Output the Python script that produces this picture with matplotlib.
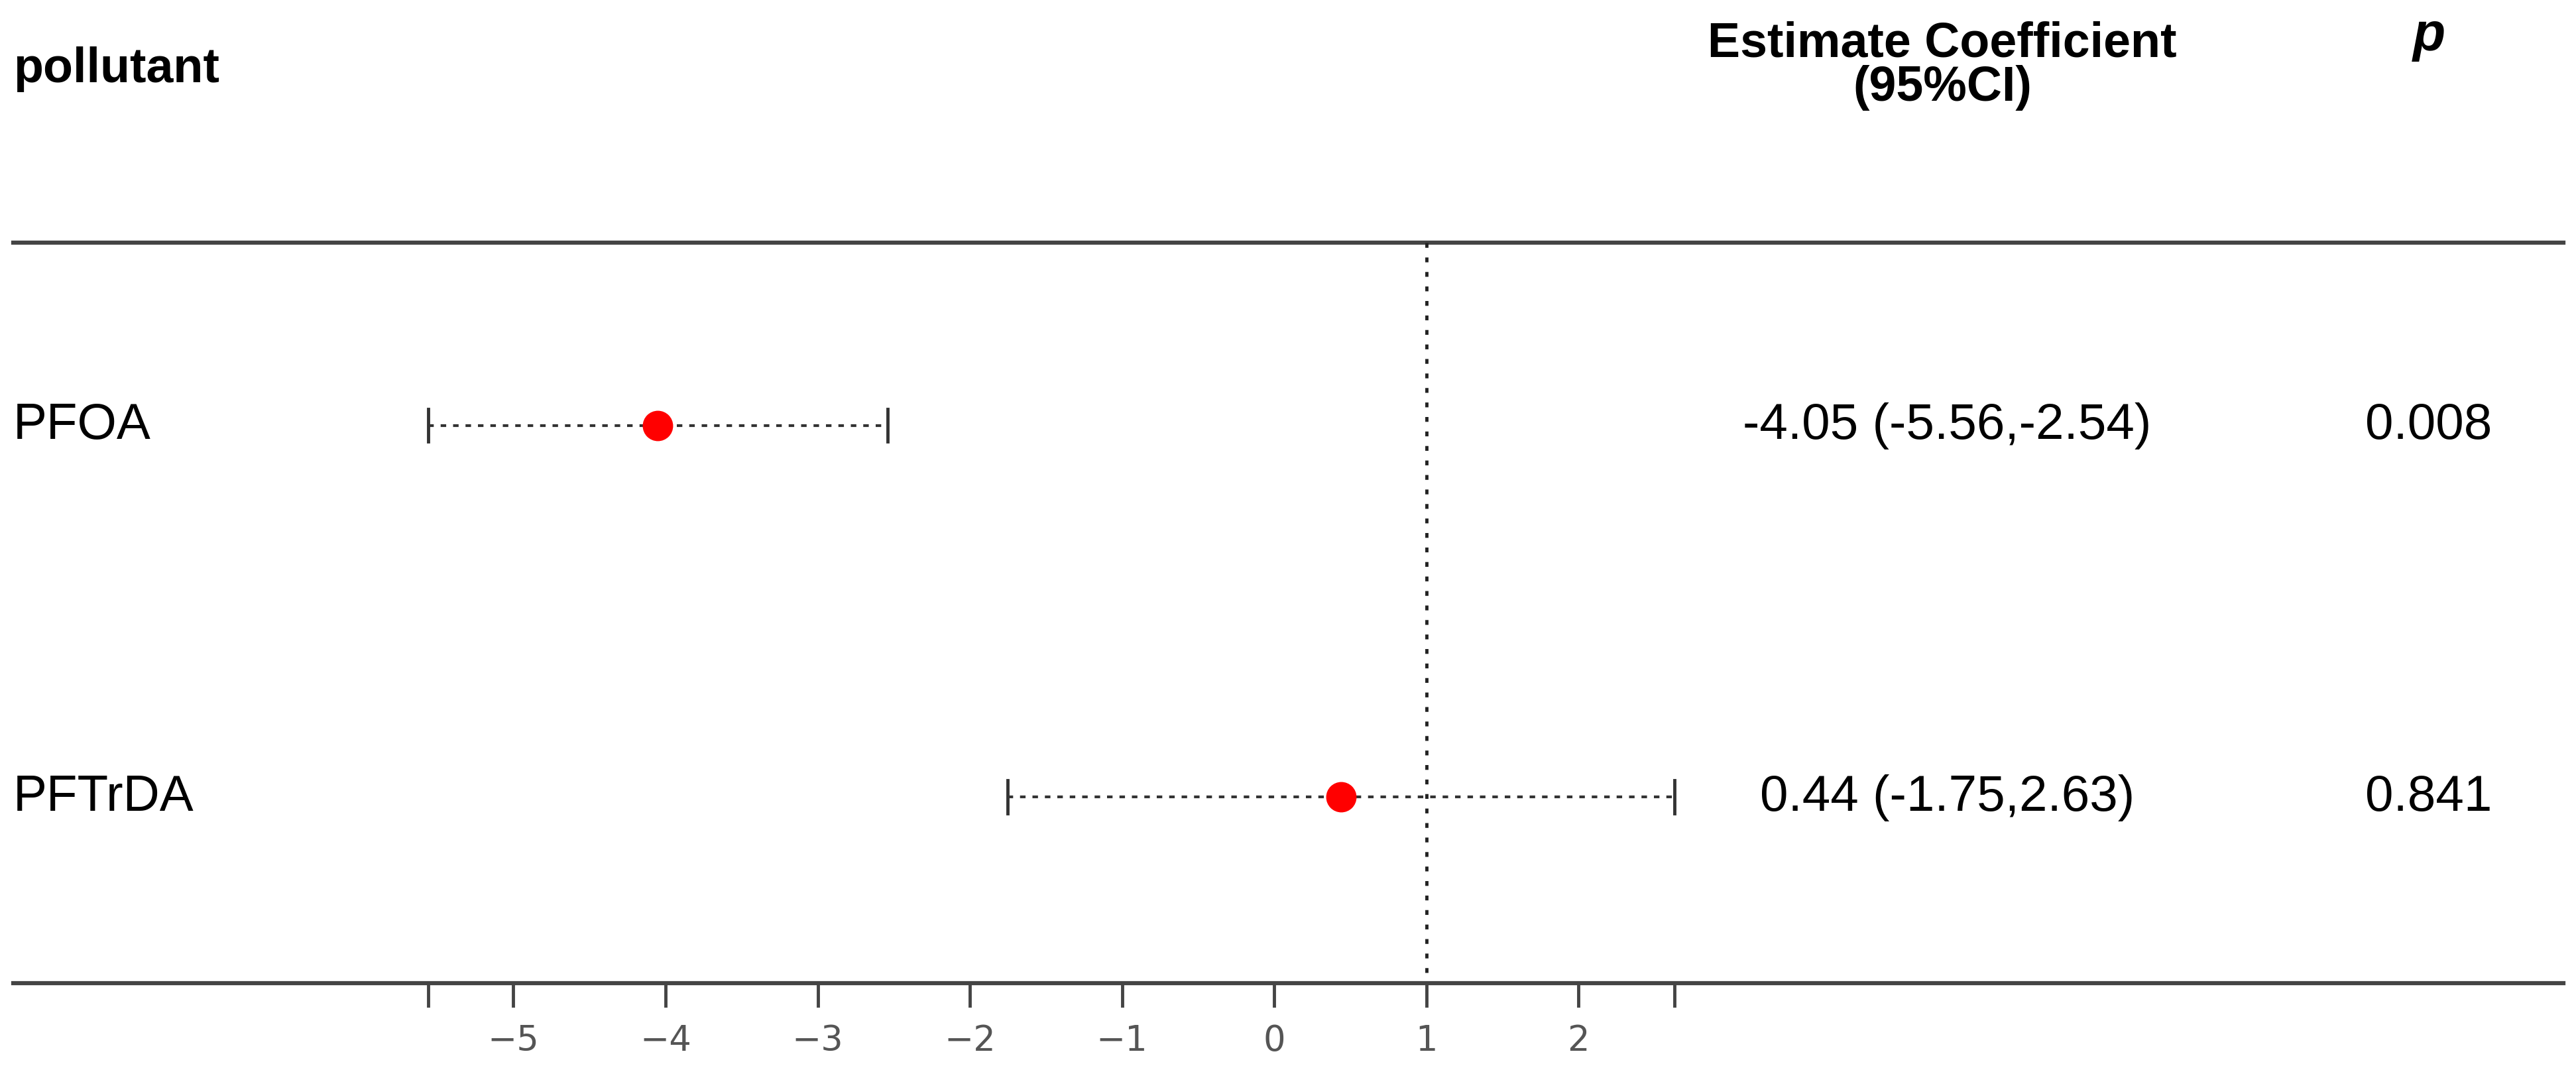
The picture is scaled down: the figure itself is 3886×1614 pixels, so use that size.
import matplotlib
matplotlib.use("Agg")
import matplotlib.pyplot as plt

pollutants = ["PFOA", "PFTrDA"]
estimates = [-4.05, 0.44]
lower = [-5.56, -1.75]
upper = [-2.54, 2.63]
est_text = ["-4.05 (-5.56,-2.54)", "0.44 (-1.75,2.63)"]
p_text = ["0.008", "0.841"]
ticks = [-5, -4, -3, -2, -1, 0, 1, 2]
ref_line = 1

plt.rcParams['font.family'] = ['Liberation Sans', 'DejaVu Sans']
fig = plt.figure(figsize=(38.87, 16.15), dpi=100)
ax = fig.add_axes([0, 0, 1, 1])
W, H = 1568, 651
unit = 92.6
x0px = 868
def px2x(px):
    return (px - x0px) / unit + ref_line
ax.set_xlim(px2x(0), px2x(W))
ax.set_ylim(H, 0)
ax.axis('off')

lw = 4.5
ax.plot([px2x(8), px2x(1560)], [148, 148], color='#444444', lw=lw)
ax.plot([px2x(8), px2x(1560)], [598, 598], color='#444444', lw=lw)
ax.plot([ref_line, ref_line], [148, 598], color='#222222', lw=3.5, ls=(0, (1.5, 3)))

rows_y = [259, 485]
for i, y in enumerate(rows_y):
    ax.plot([lower[i], upper[i]], [y, y], color='#333333', lw=3, ls=(0, (2, 2.5)))
    for xc in (lower[i], upper[i]):
        ax.plot([xc, xc], [y - 10, y + 10], color='#333333', lw=3.5)
    ax.plot(estimates[i], y, 'o', color='#ff0000', markersize=32)
    ax.text(px2x(8), y, pollutants[i], fontsize=55, va='center', ha='left')
    ax.text(px2x(1185), y, est_text[i], fontsize=55, va='center', ha='center')
    ax.text(px2x(1478), y, p_text[i], fontsize=55, va='center', ha='center')

ax.text(px2x(8), 42, "pollutant", fontsize=53, fontweight='bold', va='center', ha='left')
ax.text(px2x(1182), 40, "Estimate Coefficient\n(95%CI)", fontsize=53, fontweight='bold',
        va='center', ha='center', linespacing=0.95)
ax.text(px2x(1478), 22, "p", fontsize=58, fontweight='bold', style='italic', va='center', ha='center')

for xc in [lower[0]] + ticks + [upper[1]]:
    ax.plot([xc, xc], [598, 612], color='#444444', lw=3.5)
for t in ticks:
    ax.text(t, 633, str(t).replace('-', '\u2212'), fontsize=38, color='#555555',
            va='center', ha='center', family=['DejaVu Sans'])

fig.savefig("out.png", dpi=100)
